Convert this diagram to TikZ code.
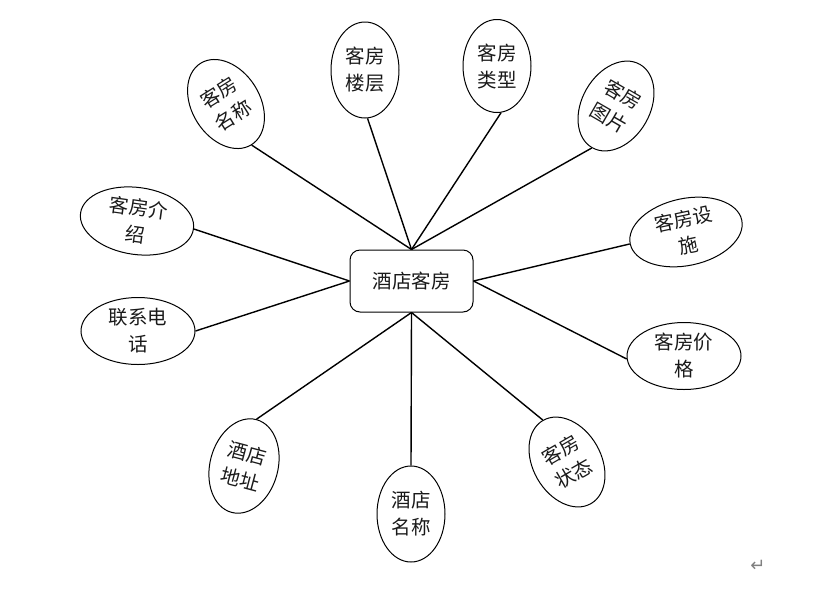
\documentclass[tikz,border=0pt]{standalone}
\usepackage{fontspec}
\setmainfont{Noto Sans CJK SC}
\newfontfamily\symfont{DejaVu Sans}
\usetikzlibrary{shapes.geometric}
\begin{document}
\begin{tikzpicture}[x=1pt,y=-1pt,
  every node/.style={font=\fontsize{19.5}{27}\selectfont, text=black!90},
  ellv/.style={ellipse, draw, line width=1pt, minimum width=68pt, minimum height=96pt, inner sep=0pt, align=center},
  ellh/.style={ellipse, draw, line width=1pt, minimum width=114pt, minimum height=67pt, inner sep=0pt, align=center},
  hub/.style={draw, line width=1pt, rounded corners=10pt, minimum width=123pt, minimum height=62pt, inner sep=0pt},
  link/.style={line width=1.4pt}]
\useasboundingbox (0,0) rectangle (816,590);
\node[hub] (c) at (411.5,281) {酒店客房};
\node[ellv, rotate=32] (e1) at (226,104) {客房\\名称};
\node[ellv] (e2) at (365,70) {客房\\楼层};
\node[ellv, minimum height=93pt] (e3) at (497,66) {客房\\类型};
\node[ellv, rotate=-30] (e4) at (616,106) {客房\\图片};
\node[ellh, rotate=12] (e5) at (686,232) {客房设\\施};
\node[ellh] (e6) at (684,356) {客房价\\格};
\node[ellv, rotate=30] (e7) at (567,462) {客房\\状态};
\node[ellv] (e8) at (411,514) {酒店\\名称};
\node[ellv, rotate=-15] (e9) at (244,466) {酒店\\地址};
\node[ellh] (e10) at (138,331) {联系电\\话};
\node[ellh, rotate=-8] (e11) at (137,221) {客房介\\绍};
\node[text=gray, font=\symfont\fontsize{18}{18}\selectfont] (ret) at (758,566) {↵};
\draw[link] (e1.south) -- (c.north);
\draw[link] (e2.-87) -- (c.north);
\draw[link] (e3.-85) -- (c.north);
\draw[link] (e4.south) -- (c.north);
\draw[link] (e5.west) -- (c.east);
\draw[link] (e6.183) -- (c.east);
\draw[link] (e7.north) -- (c.south);
\draw[link] (e8.north) -- (c.south);
\draw[link] (e9.north) -- (c.south);
\draw[link] (e10.east) -- (c.west);
\draw[link] (e11.east) -- (c.west);
\end{tikzpicture}
\end{document}
